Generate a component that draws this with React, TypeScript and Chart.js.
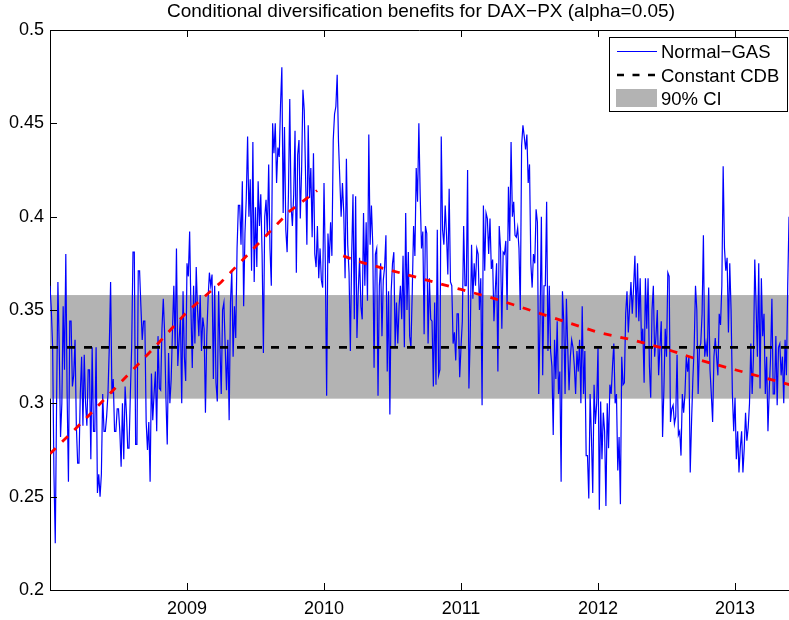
import React, { useEffect, useRef } from "react";
import { Chart, registerables } from "chart.js";

Chart.register(...registerables);

// ---- data ----
const TITLE = "Conditional diversification benefits for DAX\u2212PX (alpha=0.05)";
const LEGEND_LABELS = ["Normal\u2212GAS", "Constant CDB", "90% CI"];

// observations of the Normal-GAS conditional diversification benefit, two per week from Jan 2008
const gasStartYear = 2008.0;
const gasObsPerYear = 104;
const gasValues = [
  0.363,0.350, 0.330,0.262, 0.225,0.300, 0.365,0.330, 0.282,0.300, 0.352,0.318, 0.380,0.305, 0.258,0.344,
  0.344,0.309, 0.315,0.334, 0.288,0.268, 0.268,0.305, 0.325,0.288, 0.326,0.300, 0.288,0.318, 0.318,0.270,
  0.330,0.285, 0.285,0.330, 0.252,0.262, 0.250,0.262, 0.305,0.285, 0.285,0.293, 0.305,0.330, 0.365,0.305,
  0.313,0.285, 0.285,0.297, 0.297,0.285, 0.266,0.300, 0.270,0.309, 0.295,0.276, 0.276,0.305, 0.330,0.381,
  0.381,0.278, 0.278,0.371, 0.371,0.352, 0.334,0.344, 0.344,0.290,
  0.275,0.290, 0.258,0.316, 0.291,0.305, 0.317,0.285, 0.336,0.308, 0.307,0.340, 0.356,0.338, 0.303,0.278,
  0.327,0.300, 0.313,0.340, 0.363,0.330, 0.383,0.320, 0.334,0.346, 0.300,0.360, 0.325,0.312, 0.375,0.368,
  0.392,0.350, 0.319,0.363, 0.332,0.373, 0.350,0.336, 0.358,0.328, 0.346,0.340, 0.295,0.336, 0.356,0.370,
  0.363,0.369, 0.313,0.363, 0.311,0.301, 0.360,0.330, 0.305,0.350, 0.354,0.330, 0.307,0.334, 0.291,0.354,
  0.371,0.325, 0.352,0.335, 0.383,0.406,
  0.406,0.385, 0.419,0.352, 0.391,0.410, 0.443,0.400, 0.420,0.371, 0.440,0.365, 0.405,0.373, 0.419,0.395,
  0.412,0.380, 0.327,0.400, 0.409,0.390, 0.428,0.383, 0.363,0.450, 0.434,0.450, 0.418,0.437, 0.432,0.460,
  0.480,0.402, 0.448,0.393, 0.381,0.412, 0.463,0.406, 0.395,0.412, 0.446,0.370, 0.433,0.441, 0.399,0.425,
  0.468,0.457, 0.422,0.385, 0.449,0.410, 0.426,0.389, 0.434,0.380, 0.373,0.395, 0.367,0.383, 0.366,0.362,
  0.418,0.375, 0.304,0.391, 0.375,0.397, 0.379,0.441,
  0.455,0.459, 0.476,0.440, 0.420,0.400, 0.418,0.402, 0.367,0.431, 0.385,0.370, 0.328,0.379, 0.412,0.345,
  0.411,0.335, 0.360,0.378, 0.352,0.345, 0.402,0.363, 0.397,0.355, 0.444,0.385, 0.406,0.385, 0.319,0.380,
  0.383,0.304, 0.363,0.375, 0.336,0.366, 0.373,0.390, 0.317,0.360, 0.294,0.360, 0.375,0.381, 0.330,0.354,
  0.332,0.352, 0.363,0.345, 0.379,0.330, 0.402,0.350, 0.381,0.336, 0.330,0.360, 0.395,0.379, 0.426,0.408,
  0.450,0.412, 0.383,0.392, 0.337,0.395, 0.391,0.332,
  0.367,0.345, 0.344,0.309, 0.354,0.310, 0.393,0.315, 0.318,0.443, 0.393,0.385, 0.406,0.390, 0.369,0.415,
  0.365,0.363, 0.332,0.338, 0.323,0.348, 0.348,0.314, 0.330,0.344, 0.395,0.363, 0.363,0.425, 0.308,0.336,
  0.385,0.356, 0.375,0.363, 0.383,0.380, 0.350,0.367, 0.299,0.406, 0.371,0.402, 0.399,0.380, 0.399,0.372,
  0.377,0.344, 0.360,0.375, 0.317,0.395, 0.383,0.340, 0.381,0.380, 0.387,0.350, 0.416,0.387, 0.440,0.400,
  0.408,0.390, 0.389,0.394, 0.383,0.350, 0.438,0.449,
  0.443,0.436, 0.444,0.418, 0.428,0.375, 0.362,0.380, 0.375,0.404, 0.397,0.305, 0.344,0.400, 0.315,0.363,
  0.363,0.408, 0.328,0.363, 0.328,0.320, 0.283,0.334, 0.313,0.344, 0.305,0.317, 0.258,0.360, 0.344,0.305,
  0.356,0.330, 0.307,0.325, 0.334,0.330, 0.320,0.305, 0.328,0.317, 0.334,0.300, 0.352,0.305, 0.328,0.272,
  0.272,0.249, 0.305,0.282, 0.252,0.310, 0.289,0.300, 0.330,0.243, 0.301,0.270, 0.295,0.285, 0.245,0.300,
  0.276,0.310, 0.305,0.320, 0.332,0.300, 0.305,0.264,
  0.282,0.246, 0.325,0.310, 0.311,0.348, 0.360,0.338, 0.352,0.365, 0.348,0.362, 0.379,0.346, 0.375,0.344,
  0.367,0.332, 0.340,0.311, 0.367,0.340, 0.367,0.320, 0.303,0.350, 0.363,0.325, 0.336,0.350, 0.315,0.330,
  0.344,0.282, 0.307,0.340, 0.325,0.370, 0.368,0.290, 0.297,0.299, 0.289,0.293, 0.326,0.283, 0.285,0.272,
  0.305,0.295, 0.305,0.325, 0.317,0.325, 0.263,0.290, 0.313,0.330, 0.363,0.350, 0.305,0.330, 0.332,0.348,
  0.390,0.325, 0.332,0.325, 0.362,0.318, 0.305,0.290,
  0.325,0.335, 0.325,0.315, 0.348,0.342, 0.363,0.427, 0.383,0.371, 0.378,0.338, 0.375,0.350, 0.305,0.285,
  0.303,0.270, 0.285,0.263, 0.276,0.285, 0.263,0.276, 0.295,0.280, 0.287,0.300, 0.332,0.305, 0.325,0.377,
  0.352,0.325, 0.375,0.308, 0.367,0.336, 0.348,0.305, 0.325,0.285, 0.307,0.325, 0.356,0.305, 0.305,0.336,
  0.299,0.330, 0.332,0.315, 0.325,0.300, 0.334,0.315, 0.363,0.400,
];

// red dashed trend, two pieces
const trendRiseYears = [2008.0, 2008.25, 2008.5, 2008.75, 2009.0, 2009.25, 2009.5, 2009.75, 2009.95];
const trendRiseValues = [0.273, 0.291, 0.310, 0.329, 0.349, 0.365, 0.384, 0.403, 0.414];
const trendFallYears = [2010.14, 2010.25, 2010.5, 2010.75, 2011.0, 2011.25, 2011.5, 2011.75, 2012.0, 2012.25, 2012.5, 2012.75, 2013.0, 2013.25, 2013.4];
const trendFallValues = [0.379, 0.376, 0.371, 0.366, 0.361, 0.356, 0.350, 0.344, 0.338, 0.334, 0.329, 0.323, 0.318, 0.313, 0.310];

const constantCdb = 0.330;
const ciLower = 0.3025;
const ciUpper = 0.358;

const xMin = 2008.0;
const xMax = 2013.394;
const xTickYears = [2009, 2010, 2011, 2012, 2013];
const yMin = 0.2;
const yMax = 0.5;
const yStep = 0.05;

const FONT = "'Liberation Sans', Arial, Helvetica, sans-serif";

const matlabPlugin = {
  id: "matlabDecor",
  beforeDatasetsDraw(chart: any) {
    const { ctx, chartArea: a, scales } = chart;
    const y = scales.y;
    const yt = y.getPixelForValue(ciUpper);
    const yb = y.getPixelForValue(ciLower);
    ctx.save();
    ctx.fillStyle = "#b3b3b3";
    ctx.fillRect(a.left, yt, a.right - a.left, yb - yt);
    ctx.restore();
  },
  afterDraw(chart: any) {
    const { ctx, chartArea: a, scales } = chart;
    const x = scales.x;
    const y = scales.y;
    const tl = 7;
    ctx.save();
    ctx.strokeStyle = "#000";
    ctx.lineWidth = 1;
    ctx.setLineDash([]);
    ctx.beginPath();
    const top = Math.round(a.top) + 0.5;
    ctx.moveTo(a.left, top);
    ctx.lineTo(a.right, top);
    x.ticks.forEach((t: any) => {
      const px = Math.round(x.getPixelForValue(t.value)) + 0.5;
      ctx.moveTo(px, a.bottom);
      ctx.lineTo(px, a.bottom - tl);
      ctx.moveTo(px, a.top);
      ctx.lineTo(px, a.top + tl);
    });
    y.ticks.forEach((t: any) => {
      const py = Math.round(y.getPixelForValue(t.value)) + 0.5;
      ctx.moveTo(a.left, py);
      ctx.lineTo(a.left + tl, py);
    });
    ctx.stroke();

    // title
    ctx.fillStyle = "#000";
    ctx.font = `19px ${FONT}`;
    ctx.textAlign = "center";
    ctx.textBaseline = "alphabetic";
    ctx.fillText(TITLE, 421, 17);

    // legend
    const bx = 609.5, by = 37.5, bw = 178, bh = 74;
    ctx.fillStyle = "#fff";
    ctx.fillRect(bx, by, bw, bh);
    ctx.strokeStyle = "#000";
    ctx.lineWidth = 1;
    ctx.strokeRect(bx, by, bw, bh);

    ctx.strokeStyle = "#0000ff";
    ctx.lineWidth = 1;
    ctx.beginPath();
    ctx.moveTo(617, 51.5);
    ctx.lineTo(657, 51.5);
    ctx.stroke();

    ctx.strokeStyle = "#000";
    ctx.lineWidth = 2.5;
    ctx.setLineDash([7, 8.5]);
    ctx.beginPath();
    ctx.moveTo(617, 75);
    ctx.lineTo(657, 75);
    ctx.stroke();
    ctx.setLineDash([]);

    ctx.fillStyle = "#b3b3b3";
    ctx.fillRect(616, 89, 41, 18);

    ctx.fillStyle = "#000";
    ctx.font = `18.5px ${FONT}`;
    ctx.textAlign = "left";
    ctx.fillText(LEGEND_LABELS[0], 661, 58);
    ctx.fillText(LEGEND_LABELS[1], 661, 81.5);
    ctx.fillText(LEGEND_LABELS[2], 661, 105);
    ctx.restore();
  },
};

export default function App() {
  const canvasRef = useRef<HTMLCanvasElement | null>(null);

  useEffect(() => {
    const canvas = canvasRef.current;
    if (!canvas) return;
    const gasPoints = gasValues.map((v, k) => ({ x: gasStartYear + k / gasObsPerYear, y: v }));
    const risePoints = trendRiseYears.map((yr, k) => ({ x: yr, y: trendRiseValues[k] }));
    const fallPoints = trendFallYears.map((yr, k) => ({ x: yr, y: trendFallValues[k] }));
    const constPoints = [
      { x: xMin, y: constantCdb },
      { x: xMax, y: constantCdb },
    ];

    const chart = new Chart(canvas, {
      type: "line",
      data: {
        datasets: [
          {
            label: "trend rise",
            data: risePoints,
            borderColor: "#ff0000",
            borderWidth: 2.8,
            borderDash: [8, 9],
            pointRadius: 0,
            tension: 0,
            order: 0,
          },
          {
            label: "trend fall",
            data: fallPoints,
            borderColor: "#ff0000",
            borderWidth: 2.8,
            borderDash: [8, 9],
            pointRadius: 0,
            tension: 0,
            order: 0,
          },
          {
            label: LEGEND_LABELS[1],
            data: constPoints,
            borderColor: "#000000",
            borderWidth: 2.8,
            borderDash: [8, 9],
            pointRadius: 0,
            order: 1,
          },
          {
            label: LEGEND_LABELS[0],
            data: gasPoints,
            borderColor: "#0000ff",
            borderWidth: 1.2,
            pointRadius: 0,
            tension: 0,
            order: 2,
          },
        ],
      },
      options: {
        responsive: false,
        animation: false,
        parsing: true,
        layout: { padding: { top: 30, left: 0, right: 0, bottom: 0 } },
        plugins: {
          legend: { display: false },
          tooltip: { enabled: false },
          title: { display: false },
        },
        scales: {
          x: {
            type: "linear",
            min: xMin,
            max: xMax,
            grid: { display: false, drawTicks: false },
            border: { display: true, color: "#000", width: 1 },
            afterBuildTicks: (scale: any) => {
              scale.ticks = xTickYears.map((v) => ({ value: v }));
            },
            afterFit: (scale: any) => {
              scale.height = 30;
            },
            ticks: {
              autoSkip: false,
              maxRotation: 0,
              padding: 8,
              color: "#000",
              font: { family: FONT, size: 18 },
              callback: (v: any) => String(v),
            },
          },
          y: {
            type: "linear",
            min: yMin,
            max: yMax,
            grid: { display: false, drawTicks: false },
            border: { display: true, color: "#000", width: 1 },
            afterFit: (scale: any) => {
              scale.width = 50;
            },
            ticks: {
              stepSize: yStep,
              padding: 6,
              color: "#000",
              font: { family: FONT, size: 18 },
              callback: (v: any) => String(Number(Number(v).toFixed(2))),
            },
          },
        },
      },
      plugins: [matlabPlugin],
    });
    return () => chart.destroy();
  }, []);

  return (
    <div style={{ position: "fixed", left: 0, top: 0, width: 789, height: 620, overflow: "hidden", background: "#fff" }}>
      <canvas ref={canvasRef} width={789} height={620} style={{ display: "block", width: 789, height: 620 }} />
    </div>
  );
}
